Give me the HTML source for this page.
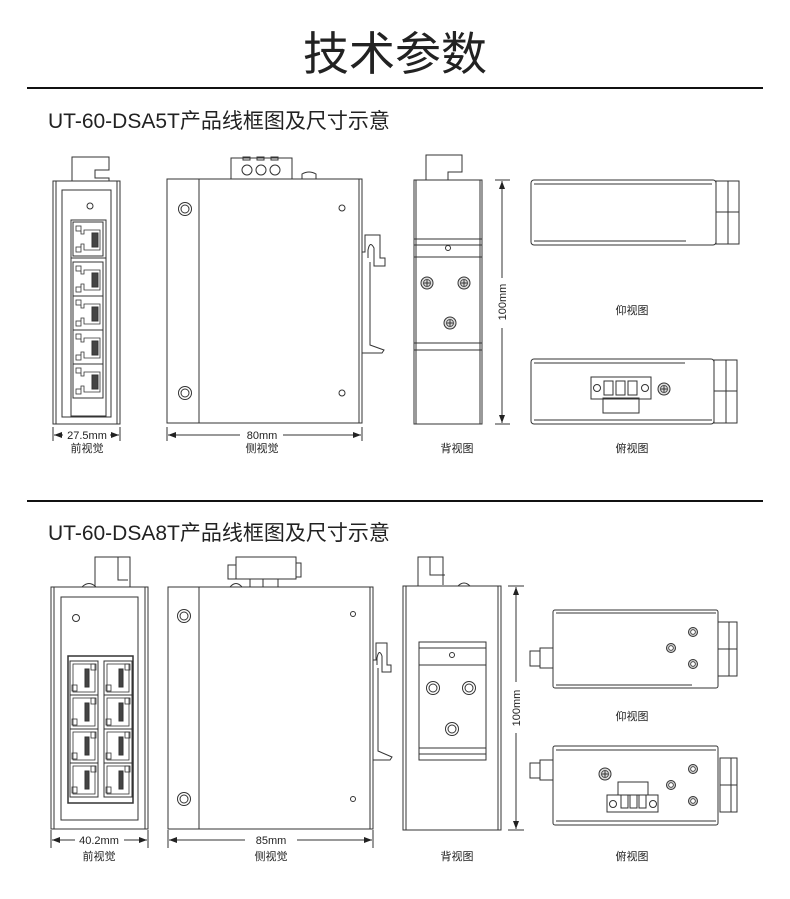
<!DOCTYPE html>
<html><head><meta charset="utf-8"><style>
html,body{margin:0;padding:0;background:#fff;}
svg{display:block;}
text{font-family:"Liberation Sans","Noto Sans CJK SC",sans-serif;fill:#222;}
</style></head><body>
<svg width="790" height="899" viewBox="0 0 790 899" xmlns="http://www.w3.org/2000/svg">
<defs>
<marker id="ar" markerWidth="8" markerHeight="6" refX="8" refY="3" orient="auto"><path d="M0,0 L8,3 L0,6z" fill="#222"/></marker>
<marker id="al" markerWidth="8" markerHeight="6" refX="0" refY="3" orient="auto"><path d="M8,0 L0,3 L8,6z" fill="#222"/></marker>
<g id="rj">
<rect x="0" y="0" width="30" height="34" fill="none" stroke="#333"/>
<rect x="3" y="4" width="5" height="5" fill="none" stroke="#333" stroke-width="0.8"/>
<rect x="3" y="25" width="5" height="5" fill="none" stroke="#333" stroke-width="0.8"/>
<path d="M8,9 L8,12 L11,12 L11,8 L27,8 L27,28 L11,28 L11,22 L8,22 L8,25" fill="none" stroke="#333" stroke-width="0.8"/>
<rect x="19" y="11" width="6" height="14" fill="#444"/>
</g>
<g id="rj2">
<rect x="0" y="0" width="28" height="34" fill="none" stroke="#333"/>
<rect x="3" y="3" width="22" height="28" fill="none" stroke="#333" stroke-width="0.8"/>
<rect x="15" y="8" width="4" height="18" fill="#444"/>
<rect x="2" y="24" width="5" height="6" fill="none" stroke="#333" stroke-width="0.8"/>
<rect x="21" y="3" width="5" height="6" fill="none" stroke="#333" stroke-width="0.8"/>
</g>
<g id="scr"><circle r="6" fill="#ddd" stroke="#333"/><circle r="3.5" fill="none" stroke="#333" stroke-width="0.8"/><path d="M-3,0H3M0,-3V3" stroke="#333"/></g>
<g id="ring"><circle r="6.5" fill="none" stroke="#333"/><circle r="4" fill="none" stroke="#333"/></g>
<g id="sring"><circle r="4.5" fill="#ccc" stroke="#333"/><circle r="2.3" fill="#fff" stroke="#333" stroke-width="0.8"/></g>
</defs>

<text x="395" y="70" font-size="46" text-anchor="middle" fill="#111">技术参数</text>
<line x1="27" y1="88" x2="763" y2="88" stroke="#111" stroke-width="2"/>
<text x="48" y="128" font-size="21">UT-60-DSA5T产品线框图及尺寸示意</text>
<line x1="27" y1="501" x2="763" y2="501" stroke="#111" stroke-width="2"/>
<text x="48" y="540" font-size="21">UT-60-DSA8T产品线框图及尺寸示意</text>

<g fill="none" stroke="#333" stroke-width="1">
<!-- ===== Section 1 ===== -->
<!-- front -->
<path d="M72,181 V157 H109 V170 H95 V178 H109 V181"/>
<rect x="53" y="181" width="67" height="243"/>
<line x1="56" y1="181" x2="56" y2="424"/><line x1="117" y1="181" x2="117" y2="424"/>
<rect x="62" y="190" width="49" height="227"/>
<circle cx="90" cy="206" r="3"/>
<rect x="71" y="220" width="35" height="196"/>
<line x1="71" y1="258" x2="106" y2="258"/>
<use href="#rj" x="73" y="222"/><use href="#rj" x="73" y="262"/><use href="#rj" x="73" y="296"/><use href="#rj" x="73" y="330"/><use href="#rj" x="73" y="364"/>
<!-- side -->
<rect x="231" y="158" width="61" height="21"/>
<circle cx="247" cy="170" r="5"/><circle cx="261" cy="170" r="5"/><circle cx="275" cy="170" r="5"/>
<rect x="243" y="157" width="7" height="3"/><rect x="257" y="157" width="7" height="3"/><rect x="271" y="157" width="7" height="3"/>
<path d="M302,179 V174 Q309,170 316,174 V179"/>
<rect x="167" y="179" width="195" height="244"/>
<line x1="199" y1="179" x2="199" y2="423"/>
<line x1="359" y1="179" x2="359" y2="423"/>
<use href="#ring" x="185" y="209"/><use href="#ring" x="185" y="393"/>
<circle cx="342" cy="208" r="3"/><circle cx="342" cy="393" r="3"/>
<path d="M362,252 H365 V235 H380 V258 H385 V266 H374 V248 Q370,240 368,250 V258 M370,262 V345 L384,350 L382,353 H362"/>
<!-- back -->
<path d="M426,180 V155 H462 V172 H448 V180"/>
<rect x="414" y="180" width="68" height="244"/>
<line x1="416" y1="180" x2="416" y2="424"/><line x1="480" y1="180" x2="480" y2="424"/>
<rect x="414" y="239" width="68" height="111"/>
<line x1="414" y1="245" x2="482" y2="245"/><line x1="414" y1="257" x2="482" y2="257"/><line x1="414" y1="343" x2="482" y2="343"/>
<circle cx="448" cy="248" r="2.5"/>
<use href="#scr" x="427" y="283"/><use href="#scr" x="464" y="283"/><use href="#scr" x="450" y="323"/>
<!-- dims -->
<line x1="53" y1="427" x2="53" y2="441"/><line x1="120" y1="427" x2="120" y2="441"/>
<line x1="54" y1="435" x2="63" y2="435" marker-start="url(#al)"/><line x1="110" y1="435" x2="119" y2="435" marker-end="url(#ar)"/>
<line x1="167" y1="427" x2="167" y2="441"/><line x1="362" y1="427" x2="362" y2="441"/>
<line x1="168" y1="435" x2="240" y2="435" marker-start="url(#al)"/><line x1="283" y1="435" x2="361" y2="435" marker-end="url(#ar)"/>
<line x1="495" y1="180" x2="510" y2="180"/><line x1="495" y1="424" x2="510" y2="424"/>
<line x1="502" y1="181" x2="502" y2="278" marker-start="url(#al)"/><line x1="502" y1="328" x2="502" y2="423" marker-end="url(#ar)"/>
<!-- bottom view -->
<rect x="531" y="180" width="185" height="65" rx="3"/>
<line x1="534" y1="184" x2="712" y2="184"/><line x1="534" y1="241" x2="686" y2="241"/>
<rect x="716" y="181" width="23" height="63"/><line x1="728" y1="181" x2="728" y2="244"/><line x1="716" y1="212" x2="739" y2="212"/>
<!-- top view -->
<rect x="531" y="359" width="183" height="65" rx="3"/>
<line x1="534" y1="363" x2="685" y2="363"/><line x1="534" y1="420" x2="712" y2="420"/>
<rect x="714" y="360" width="23" height="63"/><line x1="726" y1="360" x2="726" y2="423"/><line x1="714" y1="391" x2="737" y2="391"/>
<rect x="591" y="377" width="60" height="22"/><rect x="603" y="398" width="36" height="15"/>
<rect x="604" y="381" width="9" height="14"/><rect x="616" y="381" width="9" height="14"/><rect x="628" y="381" width="9" height="14"/>
<circle cx="597" cy="388" r="3.5"/><circle cx="645" cy="388" r="3.5"/>
<use href="#scr" x="664" y="389"/>

<!-- ===== Section 2 ===== -->
<!-- front -->
<path d="M95,587 V557 H130 V587 M118,557 V580 H128"/>
<path d="M82,587 Q89,580 96,587"/>
<rect x="51" y="587" width="97" height="242"/>
<line x1="54" y1="587" x2="54" y2="829"/><line x1="145" y1="587" x2="145" y2="829"/>
<rect x="61" y="597" width="77" height="223"/>
<circle cx="76" cy="618" r="3.5"/>
<rect x="68" y="656" width="65" height="147" stroke-width="1.5"/>
<use href="#rj2" x="70" y="661"/><use href="#rj2" x="104" y="661"/>
<use href="#rj2" x="70" y="695"/><use href="#rj2" x="104" y="695"/>
<use href="#rj2" x="70" y="729"/><use href="#rj2" x="104" y="729"/>
<use href="#rj2" x="70" y="763"/><use href="#rj2" x="104" y="763"/>
<!-- side -->
<rect x="236" y="557" width="60" height="22"/><rect x="228" y="565" width="8" height="14"/><rect x="296" y="563" width="5" height="14"/>
<path d="M230,587 Q236,580 242,587"/>
<line x1="250" y1="579" x2="250" y2="587"/><line x1="263" y1="579" x2="263" y2="587"/><line x1="278" y1="579" x2="278" y2="587"/>
<rect x="168" y="587" width="205" height="242"/>
<line x1="199" y1="587" x2="199" y2="829"/><line x1="370" y1="587" x2="370" y2="829"/>
<use href="#ring" x="184" y="616"/><use href="#ring" x="184" y="799"/>
<circle cx="353" cy="614" r="2.5"/><circle cx="353" cy="799" r="2.5"/>
<path d="M373,660 H376 V643 H387 V665 H391 V672 H382 V656 Q379,648 377,658 V665 M378,668 V751 L392,757 L390,760 H373"/>
<!-- back -->
<path d="M418,586 V557 H443 V585 M430,557 V575 H445"/>
<path d="M458,586 Q464,580 470,586"/>
<rect x="403" y="586" width="98" height="244"/>
<line x1="406" y1="586" x2="406" y2="830"/><line x1="498" y1="586" x2="498" y2="830"/>
<rect x="419" y="642" width="67" height="118"/>
<line x1="419" y1="648" x2="486" y2="648"/><line x1="419" y1="665" x2="486" y2="665"/><line x1="419" y1="748" x2="486" y2="748"/><line x1="419" y1="754" x2="486" y2="754"/>
<circle cx="452" cy="655" r="2.5"/>
<use href="#ring" x="433" y="688"/><use href="#ring" x="469" y="688"/><use href="#ring" x="452" y="729"/>
<!-- dims -->
<line x1="51" y1="830" x2="51" y2="848"/><line x1="148" y1="830" x2="148" y2="848"/>
<line x1="52" y1="840" x2="75" y2="840" marker-start="url(#al)"/><line x1="124" y1="840" x2="147" y2="840" marker-end="url(#ar)"/>
<line x1="168" y1="830" x2="168" y2="848"/><line x1="373" y1="830" x2="373" y2="848"/>
<line x1="169" y1="840" x2="245" y2="840" marker-start="url(#al)"/><line x1="297" y1="840" x2="372" y2="840" marker-end="url(#ar)"/>
<line x1="508" y1="586" x2="524" y2="586"/><line x1="508" y1="830" x2="524" y2="830"/>
<line x1="516" y1="587" x2="516" y2="682" marker-start="url(#al)"/><line x1="516" y1="733" x2="516" y2="829" marker-end="url(#ar)"/>
<!-- bottom view -->
<rect x="553" y="610" width="165" height="78" rx="2"/>
<line x1="556" y1="613" x2="716" y2="613"/><line x1="556" y1="685" x2="692" y2="685"/>
<rect x="718" y="622" width="19" height="54"/><line x1="729" y1="622" x2="729" y2="676"/><line x1="718" y1="649" x2="737" y2="649"/>
<rect x="530" y="651" width="10" height="15"/><rect x="540" y="648" width="13" height="20"/>
<use href="#sring" x="693" y="632"/><use href="#sring" x="671" y="648"/><use href="#sring" x="693" y="664"/>
<!-- top view -->
<rect x="553" y="746" width="165" height="79" rx="2"/>
<line x1="556" y1="750" x2="716" y2="750"/><line x1="556" y1="821" x2="716" y2="821"/>
<rect x="720" y="758" width="17" height="54"/><line x1="731" y1="758" x2="731" y2="812"/><line x1="720" y1="785" x2="737" y2="785"/>
<rect x="530" y="763" width="10" height="15"/><rect x="540" y="760" width="13" height="20"/>
<rect x="607" y="795" width="51" height="17"/><rect x="618" y="782" width="30" height="13"/>
<rect x="621" y="795" width="7" height="13"/><rect x="630" y="795" width="7" height="13"/><rect x="639" y="795" width="7" height="13"/>
<circle cx="613" cy="804" r="3.5"/><circle cx="653" cy="804" r="3.5"/>
<use href="#scr" x="605" y="774"/>
<use href="#sring" x="693" y="769"/><use href="#sring" x="671" y="785"/><use href="#sring" x="693" y="801"/>
</g>

<g font-size="11" text-anchor="middle">
<text x="87" y="439">27.5mm</text><text x="87" y="452">前视觉</text>
<text x="262" y="439">80mm</text><text x="262" y="452">侧视觉</text>
<text x="457" y="452">背视图</text>
<text x="632" y="314">仰视图</text><text x="632" y="452">俯视图</text>
<text transform="translate(506,302) rotate(-90)">100mm</text>
<text x="99" y="844">40.2mm</text><text x="99" y="860">前视觉</text>
<text x="271" y="844">85mm</text><text x="271" y="860">侧视觉</text>
<text x="457" y="860">背视图</text>
<text x="632" y="720">仰视图</text><text x="632" y="860">俯视图</text>
<text transform="translate(520,708) rotate(-90)">100mm</text>
</g>
</svg>
</body></html>
